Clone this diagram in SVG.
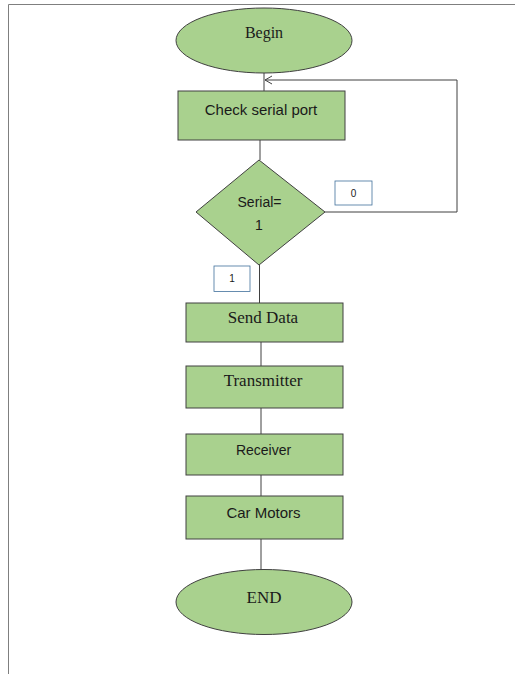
<svg xmlns="http://www.w3.org/2000/svg" width="515" height="674" viewBox="0 0 515 674">
<style>
.shape{fill:#A9D18E;stroke:#404040;stroke-width:1}
.lbl{fill:#fff;stroke:#41719C;stroke-width:0.8}
.conn{fill:none;stroke:#404040;stroke-width:1}
.serif{font-family:"Liberation Serif","Times New Roman",serif;fill:#1a1a1a;text-anchor:middle}
.sans{font-family:"Liberation Sans",Arial,sans-serif;fill:#1a1a1a;text-anchor:middle}
</style>
<defs>
<marker id="open" markerWidth="10" markerHeight="10" refX="8" refY="5" orient="auto" markerUnits="userSpaceOnUse">
<path d="M1,1 L8,5 L1,9" fill="none" stroke="#404040" stroke-width="1"/>
</marker>
</defs>
<rect x="0" y="0" width="515" height="674" fill="#fff"/>
<path d="M8.5,674 V4.5 H515" fill="none" stroke="#7f7f7f" stroke-width="1"/>
<g id="connectors">
<line class="conn" x1="264" y1="73" x2="264" y2="91"/>
<line class="conn" x1="260" y1="140" x2="260" y2="160"/>
<polyline class="conn" points="325,212 457,212 457,80 265,80" marker-end="url(#open)"/>
<line class="conn" x1="259.5" y1="265" x2="259.5" y2="303" stroke-width="2"/>
<line class="conn" x1="261" y1="342" x2="261" y2="366"/>
<line class="conn" x1="261" y1="408" x2="261" y2="434"/>
<line class="conn" x1="261" y1="475" x2="261" y2="496"/>
<line class="conn" x1="261" y1="539" x2="261" y2="570"/>
</g>
<g id="begin">
<ellipse class="shape" cx="264" cy="40.5" rx="88" ry="32.5"/>
<text class="serif" x="264" y="38" font-size="16">Begin</text>
</g>
<g id="check">
<rect class="shape" x="178" y="91" width="167" height="49"/>
<text class="sans" x="261" y="115" font-size="15">Check serial port</text>
</g>
<g id="decision">
<polygon class="shape" points="259,160 325,212 259,265 196,212"/>
<text class="sans" x="259.5" y="207" font-size="14">Serial=</text>
<text class="sans" x="259" y="230" font-size="14">1</text>
</g>
<g id="label0">
<rect class="lbl" x="335" y="181" width="37" height="24"/>
<text class="sans" x="353.5" y="196.5" font-size="10">0</text>
</g>
<g id="label1">
<rect class="lbl" x="214" y="266" width="36" height="25.5"/>
<text class="sans" x="232" y="282" font-size="10">1</text>
</g>
<g id="send">
<rect class="shape" x="186" y="303" width="157" height="39"/>
<text class="serif" x="263" y="323" font-size="17">Send Data</text>
</g>
<g id="transmitter">
<rect class="shape" x="186" y="366" width="157" height="42"/>
<text class="serif" x="263" y="385.5" font-size="17">Transmitter</text>
</g>
<g id="receiver">
<rect class="shape" x="186" y="434" width="157" height="41"/>
<text class="sans" x="263.5" y="454.5" font-size="14">Receiver</text>
</g>
<g id="motors">
<rect class="shape" x="186" y="496" width="157" height="43"/>
<text class="sans" x="263.5" y="517.5" font-size="15">Car Motors</text>
</g>
<g id="end">
<ellipse class="shape" cx="264" cy="602" rx="88" ry="32.5"/>
<text class="serif" x="264" y="602.5" font-size="17">END</text>
</g>
</svg>
